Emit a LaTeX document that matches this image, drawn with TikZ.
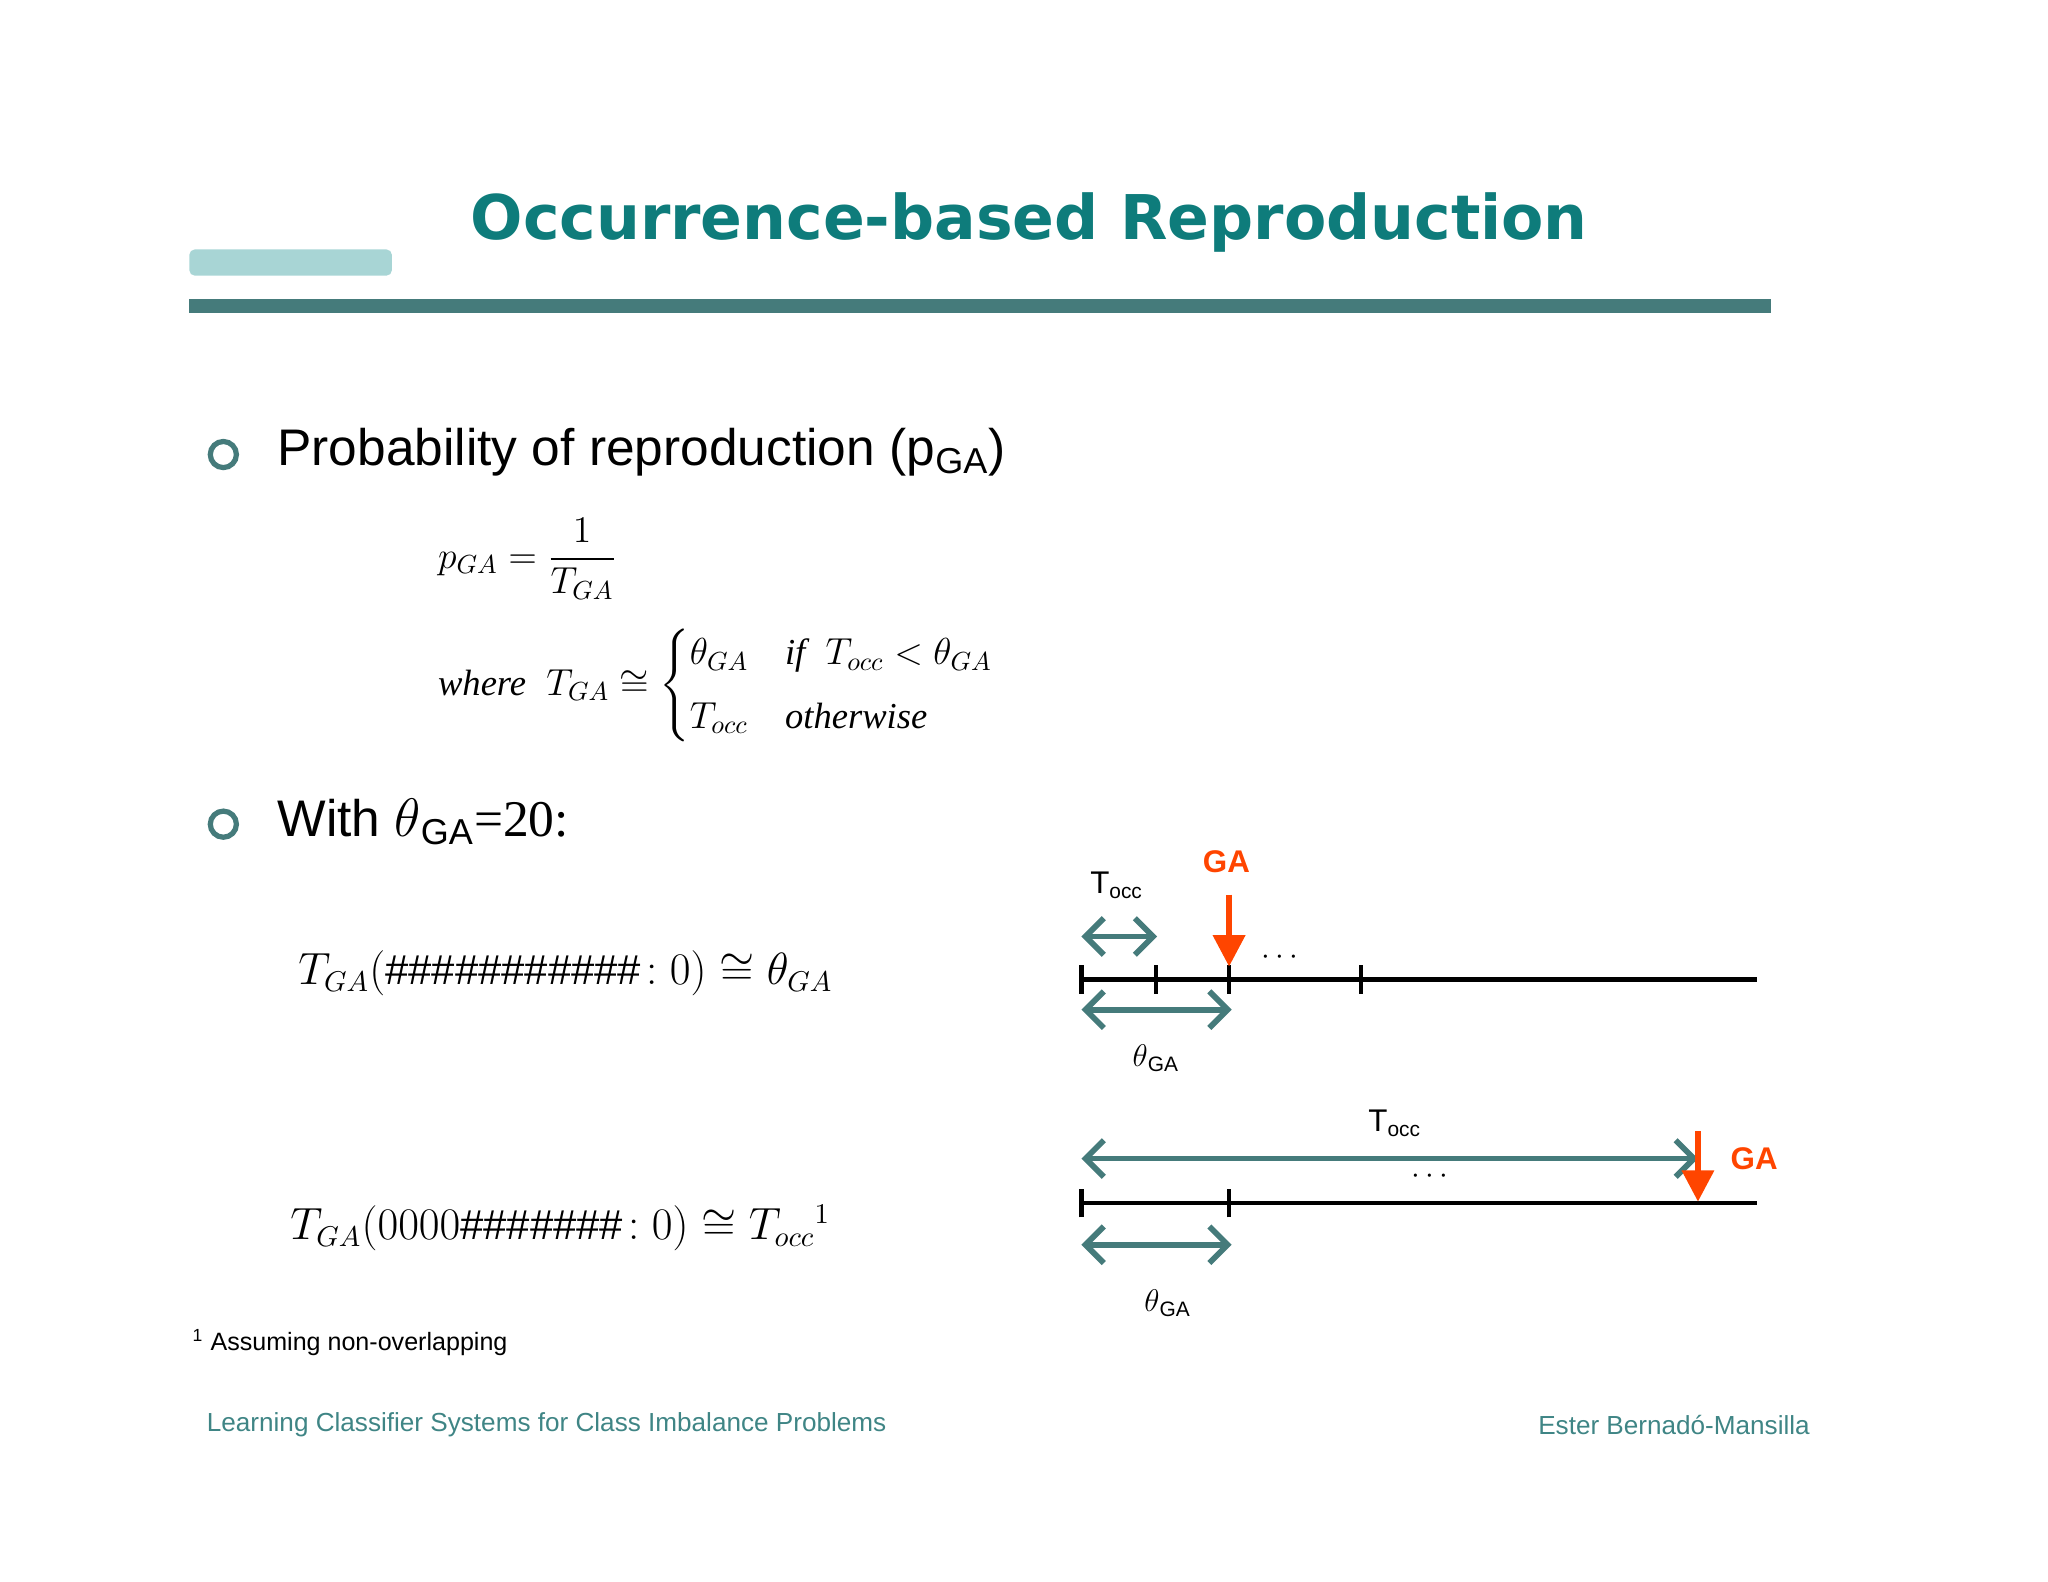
\documentclass[tikz,border=0pt]{standalone}
\usepackage{amsmath}
\usepackage{fontspec}
\setmainfont{Liberation Sans}
\newfontfamily\titlefont{DejaVu Sans}
\newfontfamily\tms{Liberation Serif}
\newcommand{\tw}[1]{\text{\tms\itshape #1}}
\usetikzlibrary{arrows.meta}
\definecolor{teal1}{HTML}{0E7C7B}
\definecolor{teal2}{HTML}{457B7B}
\definecolor{light}{HTML}{A8D5D5}
\definecolor{ora}{HTML}{FF4500}
\definecolor{foot}{HTML}{3F8585}
\tikzset{
 tarrow/.style={draw=teal2,line width=2.2pt,{Straight Barb[length=7pt,width=14pt]}-{Straight Barb[length=7pt,width=14pt]}},
 garrow/.style={draw=ora,line width=2.2pt,-{Triangle[length=12pt,width=12pt]}},
 tl/.style={line width=1.8pt},
 tick/.style={line width=1.8pt},
 bul/.style={circle,draw=teal2,line width=2pt,minimum size=10pt,inner sep=0},
 lbl/.style={font=\fontsize{12}{14}\selectfont,inner sep=0},
}
\begin{document}
\begin{tikzpicture}[x=0.5pt,y=-0.5pt]
\useasboundingbox (0,0) rectangle (1568,1211);
\fill[light,rounded corners=2pt] (145,191) rectangle (300,211);
\fill[teal2] (145,229) rectangle (1356,240);
\node[inner sep=0,text=teal1,font=\titlefont\bfseries\fontsize{23.6}{28}\selectfont] (title) at (788,170) {Occurrence-based Reproduction};
\node[bul] (b1) at (171,348) {};
\node[bul] (b2) at (171,631) {};
\node[anchor=west,inner sep=0,font=\fontsize{19.7}{24}\selectfont] (t1) at (212,346) {Probability of reproduction (p\textsubscript{GA})};
\node[anchor=west,inner sep=0,font=\fontsize{19.7}{24}\selectfont] (t2) at (212,629) {With \tms$\theta$\textsubscript{\normalfont GA}=20:};
\node[anchor=west,inner sep=0,font=\fontsize{14}{17}\selectfont] (f1) at (335,428) {$p_{GA}=\dfrac{1}{T_{GA}}$};
\node[anchor=west,inner sep=0,font=\fontsize{14}{17}\selectfont] (f2) at (335,525) {$\tw{where}\ \ T_{GA}\cong\begin{cases}\theta_{GA} & \tw{if}\ \ T_{occ}<\theta_{GA}\\[4pt] T_{occ} & \tw{otherwise}\end{cases}$};
\node[anchor=west,inner sep=0,font=\fontsize{16}{19}\selectfont] (e1) at (228,745) {$T_{GA}(\#\#\#\#\#\#\#\#\#\#\#\!:0)\cong\theta_{GA}$};
\node[anchor=west,inner sep=0,font=\fontsize{16}{19}\selectfont] (e2) at (222,940) {$T_{GA}(0000\#\#\#\#\#\#\#\!:0)\cong T_{occ}{}^{1}$};
\node[anchor=west,inner sep=0,font=\fontsize{9.6}{12}\selectfont] (fn) at (147,1028) {\textsuperscript{1} Assuming non-overlapping};
\node[anchor=west,inner sep=0,text=foot,font=\fontsize{10}{12}\selectfont] (fl) at (158,1091) {Learning Classifier Systems for Class Imbalance Problems};
\node[anchor=east,inner sep=0,text=foot,font=\fontsize{10}{12}\selectfont] (fr) at (1386,1091) {Ester Bernadó-Mansilla};
% timeline 1
\coordinate (a0) at (828,750); \coordinate (a1) at (885,750); \coordinate (a2) at (941,750); \coordinate (a3) at (1042,750); \coordinate (aE) at (1345,750);
\draw[tl] (a0) -- (aE);
\foreach \p in {a0,a1,a2,a3} \draw[tick] ([yshift=-5.5pt]\p) -- ([yshift=5.5pt]\p);
\coordinate (u0) at (828,717); \coordinate (u1) at (886,717);
\draw[tarrow] (u0) -- (u1);
\coordinate (l0) at (828,773); \coordinate (l1) at (943,773);
\draw[tarrow] (l0) -- (l1);
\coordinate (g0) at (941,685); \coordinate (g1) at (941,740);
\draw[garrow] (g0) -- (g1);
\node[lbl,text=ora,font=\bfseries\fontsize{12}{14}\selectfont] (ga1) at (939,660) {GA};
\node[lbl] (to1) at (855,678) {T\textsubscript{occ}};
\node[lbl] (th1) at (885,810) {\tms$\theta$\textsubscript{\normalfont GA}};
\node[lbl] (d1) at (982,733) {$\cdots$};
% timeline 2
\coordinate (c0) at (828,921); \coordinate (c1) at (941,921); \coordinate (cE) at (1345,921);
\draw[tl] (c0) -- (cE);
\foreach \p in {c0,c1} \draw[tick] ([yshift=-5.5pt]\p) -- ([yshift=5.5pt]\p);
\coordinate (v0) at (828,887); \coordinate (v1) at (1300,887);
\draw[tarrow] (v0) -- (v1);
\coordinate (m0) at (828,953); \coordinate (m1) at (943,953);
\draw[tarrow] (m0) -- (m1);
\coordinate (h0) at (1300,866); \coordinate (h1) at (1300,920);
\draw[garrow] (h0) -- (h1);
\node[lbl,text=ora,font=\bfseries\fontsize{12}{14}\selectfont] (ga2) at (1343,887) {GA};
\node[lbl] (to2) at (1068,860) {T\textsubscript{occ}};
\node[lbl] (th2) at (894,998) {\tms$\theta$\textsubscript{\normalfont GA}};
\node[lbl] (d2) at (1097,901) {$\cdots$};
\end{tikzpicture}
\end{document}
